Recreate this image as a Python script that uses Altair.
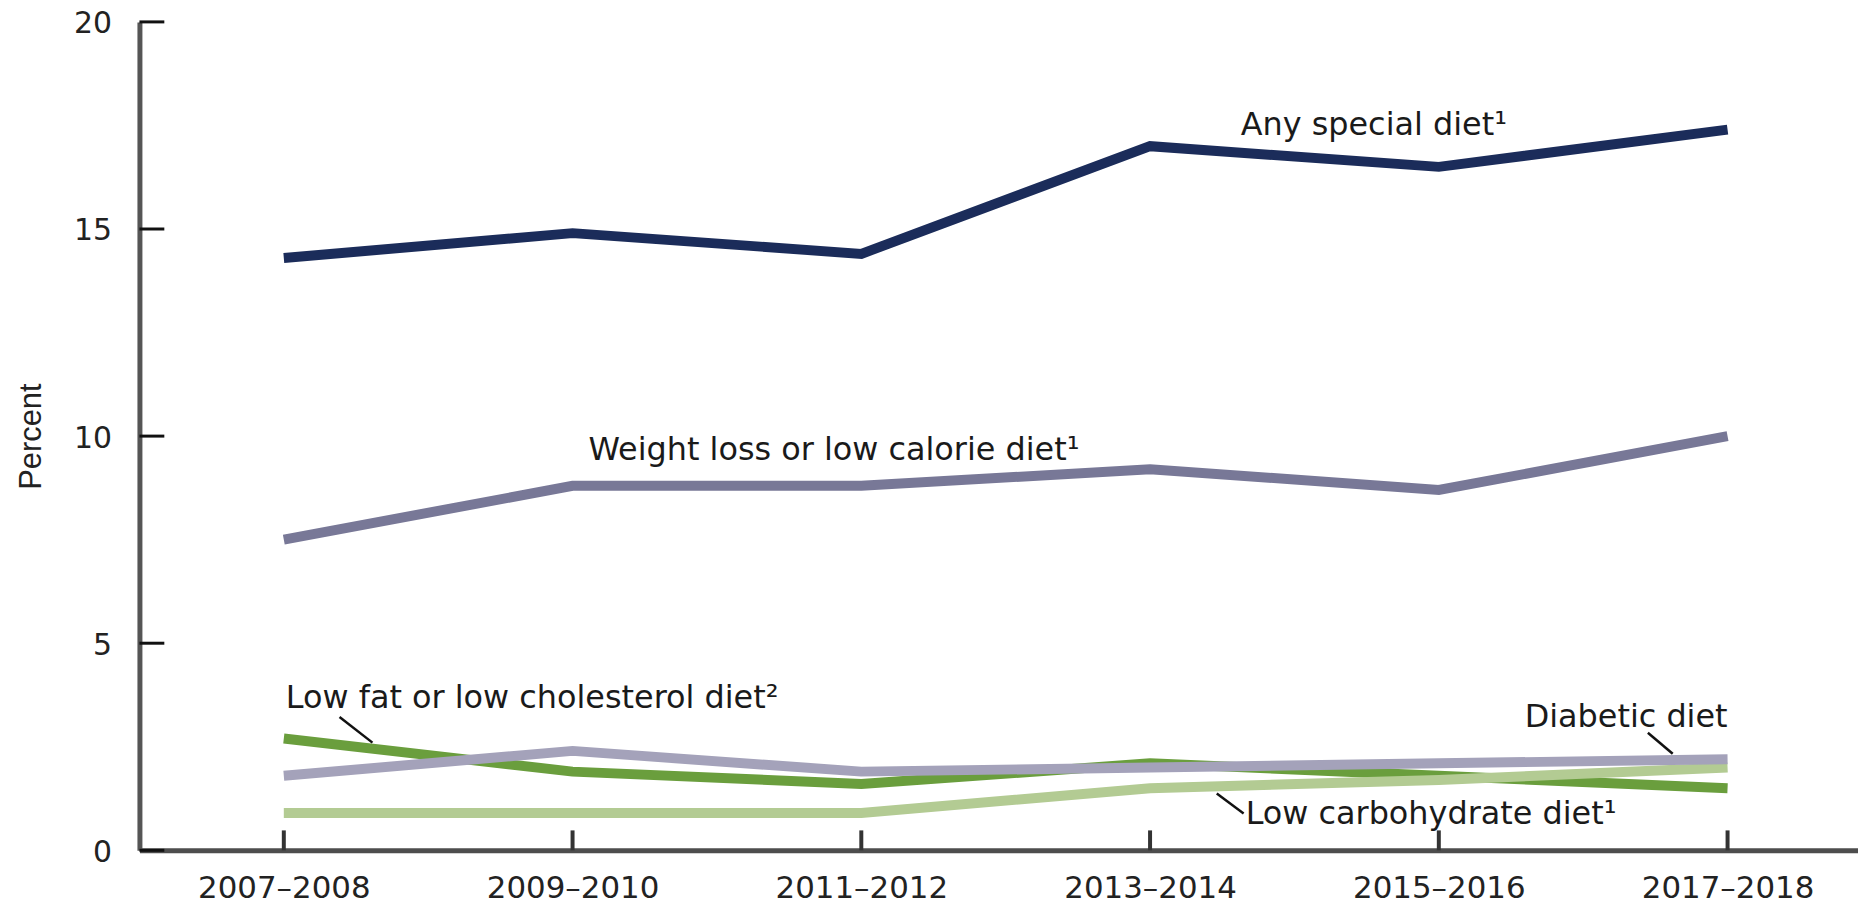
import json
import altair as alt
import pandas as pd

# ---------------- data ----------------
periods = ["2007–2008", "2009–2010", "2011–2012", "2013–2014", "2015–2016", "2017–2018"]
any_special = [14.3, 14.9, 14.4, 17.0, 16.5, 17.4]
weight_loss = [7.5, 8.8, 8.8, 9.2, 8.7, 10.0]
low_fat = [2.7, 1.9, 1.6, 2.1, 1.8, 1.5]
diabetic = [1.8, 2.4, 1.9, 2.0, 2.1, 2.2]
low_carb = [0.9, 0.9, 0.9, 1.5, 1.7, 2.0]

series_names = [
    "Low fat or low cholesterol diet",
    "Low carbohydrate diet",
    "Diabetic diet",
    "Weight loss or low calorie diet",
    "Any special diet",
]
series_values = [low_fat, low_carb, diabetic, weight_loss, any_special]
y_ticks = [0, 5, 10, 15, 20]

# annotation texts
label_texts = [
    "Any special diet¹",
    "Weight loss or low calorie diet¹",
    "Low fat or low cholesterol diet²",
    "Low carbohydrate diet¹",
]
label_texts_right = ["Diabetic diet"]

# ---------------- styles / layout ----------------
series_colors = ["#6a9e3d", "#b3cb93", "#a4a2ba", "#787897", "#1b2c5a"]
W, H = 1726, 832
STEP = 290.0

# annotation anchors in data units (period index, percent)
label_x = [3.314, 1.055, 0.007, 3.331]
label_y = [17.28, 9.42, 3.44, 0.625]
label_x_right = [5.0]
label_y_right = [2.98]
leader_x = [0.193, 4.724, 3.231]
leader_x2 = [0.307, 4.810, 3.324]
leader_y = [3.22, 2.84, 1.37]
leader_y2 = [2.60, 2.33, 0.89]

rows = []
for name, vals in zip(series_names, series_values):
    for i, (p, v) in enumerate(zip(periods, vals)):
        rows.append({"series": name, "idx": i, "period": p, "value": v})
df = pd.DataFrame(rows)

x_scale = alt.Scale(domain=[-0.5, -0.5 + W / STEP], nice=False, zero=False)
y_scale = alt.Scale(domain=[0, 20], nice=False, zero=False)

label_expr = json.dumps(periods, ensure_ascii=False) + "[datum.value]"

x_axis = alt.Axis(
    values=list(range(len(periods))),
    labelExpr=label_expr,
    title=None,
    grid=False,
    domain=True,
    domainColor="#4d4d4d",
    domainWidth=5,
    ticks=False,
    tickSize=0,
    labelFont="DejaVu Sans",
    labelFontSize=31,
    labelColor="#222222",
    labelPadding=23,
    labelAngle=0,
    labelFlush=False,
    labelOverlap=False,
)
y_axis = alt.Axis(
    values=y_ticks,
    format="d",
    title="Percent",
    titleFont="Liberation Sans",
    titleFontSize=31,
    titleFontWeight="normal",
    titleColor="#222222",
    titleX=-108,
    titleY=H / 2,
    titleAngle=270,
    titleAlign="center",
    titleBaseline="middle",
    grid=False,
    domain=True,
    domainColor="#555555",
    domainWidth=5,
    ticks=False,
    tickSize=0,
    labelFont="DejaVu Sans",
    labelFontSize=30,
    labelColor="#222222",
    labelPadding=28,
    labelOffset=2,
)

layers = []
for name, color in zip(series_names, series_colors):
    layers.append(
        alt.Chart(df)
        .transform_filter(alt.datum.series == name)
        .mark_line(color=color, strokeWidth=10, strokeCap="butt")
        .encode(
            x=alt.X("idx:Q", scale=x_scale, axis=x_axis),
            y=alt.Y("value:Q", scale=y_scale, axis=y_axis),
            order="idx:Q",
        )
    )

# inward ticks on y axis
ytick_layer = (
    alt.Chart(pd.DataFrame({"v": y_ticks}))
    .mark_rule(color="#111111", strokeWidth=3)
    .encode(
        y=alt.Y("v:Q", scale=y_scale, axis=y_axis),
        x=alt.value(0),
        x2=alt.value(25),
    )
)
# inward ticks on x axis
xtick_layer = (
    alt.Chart(pd.DataFrame({"i": list(range(len(periods)))}))
    .mark_rule(color="#333333", strokeWidth=4)
    .encode(
        x=alt.X("i:Q", scale=x_scale, axis=x_axis),
        y=alt.value(H),
        y2=alt.value(H - 20),
    )
)

text_left = (
    alt.Chart(pd.DataFrame({"t": label_texts, "x": label_x, "y": label_y}))
    .mark_text(font="DejaVu Sans", fontSize=32, color="#1a1a1a", align="left", baseline="alphabetic")
    .encode(
        x=alt.X("x:Q", scale=x_scale, axis=x_axis),
        y=alt.Y("y:Q", scale=y_scale, axis=y_axis),
        text="t:N",
    )
)
text_right = (
    alt.Chart(pd.DataFrame({"t": label_texts_right, "x": label_x_right, "y": label_y_right}))
    .mark_text(font="DejaVu Sans", fontSize=32, color="#1a1a1a", align="right", baseline="alphabetic")
    .encode(
        x=alt.X("x:Q", scale=x_scale, axis=x_axis),
        y=alt.Y("y:Q", scale=y_scale, axis=y_axis),
        text="t:N",
    )
)
leaders = (
    alt.Chart(pd.DataFrame({"x": leader_x, "x2": leader_x2, "y": leader_y, "y2": leader_y2}))
    .mark_rule(color="#111111", strokeWidth=2.5)
    .encode(
        x=alt.X("x:Q", scale=x_scale, axis=x_axis),
        x2="x2:Q",
        y=alt.Y("y:Q", scale=y_scale, axis=y_axis),
        y2="y2:Q",
    )
)

chart = (
    alt.layer(*layers, ytick_layer, xtick_layer, leaders, text_left, text_right)
    .properties(
        width=W,
        height=H,
        padding={"left": 132, "top": 12, "right": 0, "bottom": 62},
        autosize=alt.AutoSizeParams(type="none"),
        background="white",
    )
    .configure_view(stroke=None)
)

chart.save("out.html", embed_options={"renderer": "svg", "actions": False})
